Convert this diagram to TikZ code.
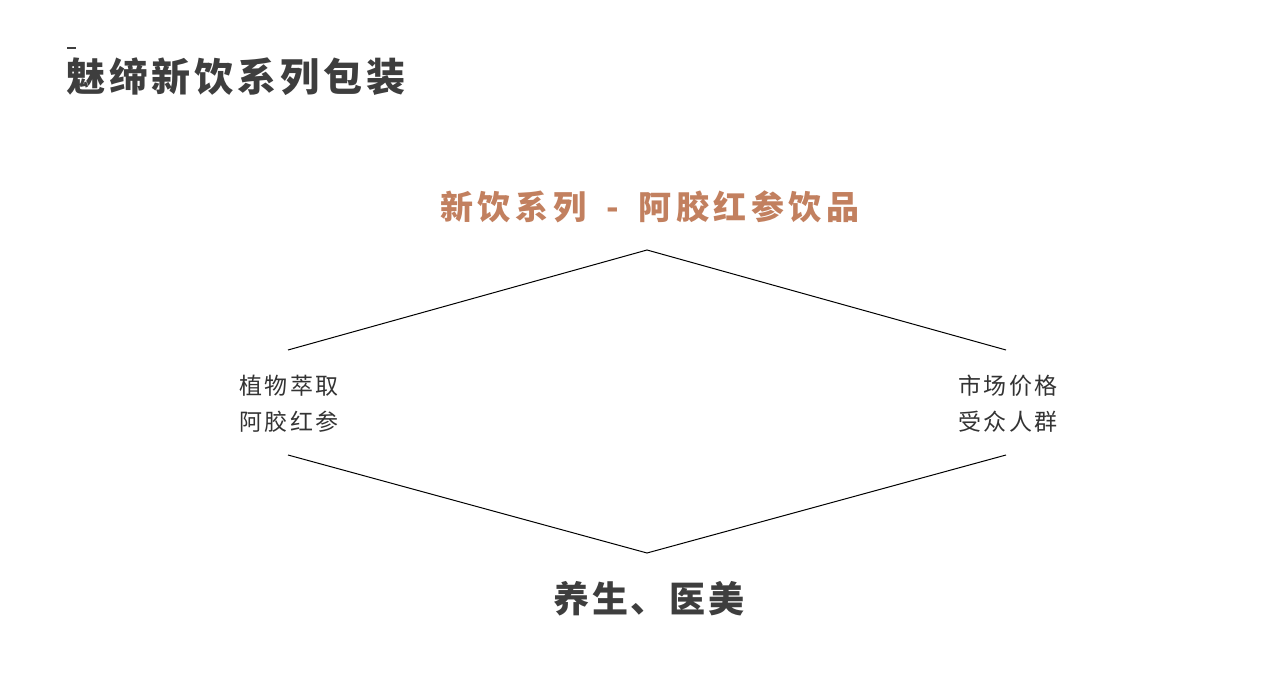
\documentclass[tikz,border=0pt]{standalone}
\usepackage{fontspec}
\newfontfamily\cjk{Noto Sans CJK SC}
\definecolor{headgray}{HTML}{3E3E3E}
\definecolor{textgray}{HTML}{333333}
\definecolor{drinkorange}{HTML}{C2805F}
\usetikzlibrary{positioning, calc}

\begin{document}
\begin{tikzpicture}[
    x=1pt, y=-1pt,
    head/.style={anchor=base west, inner sep=0pt, text=headgray,
                 font=\cjk\bfseries\fontsize{39}{39}\selectfont\addfontfeatures{LetterSpace=10}},
    series/.style={anchor=base, inner sep=0pt, text=drinkorange,
                   font=\cjk\bfseries\fontsize{33}{33}\selectfont\addfontfeatures{LetterSpace=14}},
    side/.style={anchor=base, inner sep=0pt, text=textgray,
                 font=\cjk\fontsize{23}{23}\selectfont\addfontfeatures{LetterSpace=11}},
    effect/.style={anchor=base, inner sep=0pt, text=headgray,
                   font=\cjk\bfseries\fontsize{36}{36}\selectfont\addfontfeatures{LetterSpace=7}},
    edge/.style={black, line width=1pt},
  ]
  \useasboundingbox (0,0) rectangle (1280,684);

  % page heading
  \coordinate (dashL) at (67,48);
  \coordinate (dashR) at (76,48);
  \draw[headgray, line width=1.8pt] (dashL) -- (dashR);
  \node[head] (heading) at (66,92) {魅缔新饮系列包装};

  % product title
  \node[series] (series) at (650,220) {新饮系列\hspace{0.6em}-\hspace{0.6em}阿胶红参饮品};

  % diamond corners
  \coordinate (top) at (647,250);
  \coordinate (bottom) at (647,553);
  \coordinate (lefttop) at (288,350);
  \coordinate (leftbot) at (288,455);
  \coordinate (righttop) at (1006,350);
  \coordinate (rightbot) at (1006,455);

  \draw[edge] (lefttop) -- (top) -- (righttop);
  \draw[edge] (leftbot) -- (bottom) -- (rightbot);

  % side texts
  \node[side] (plant) at (289,395) {植物萃取};
  \node[side] (ingred) at (289,431) {阿胶红参};
  \node[side] (market) at (1008,395) {市场价格};
  \node[side] (people) at (1008,431) {受众人群};

  % bottom label
  \node[effect] (health) at (649,612) {养生、医美};
\end{tikzpicture}
\end{document}
